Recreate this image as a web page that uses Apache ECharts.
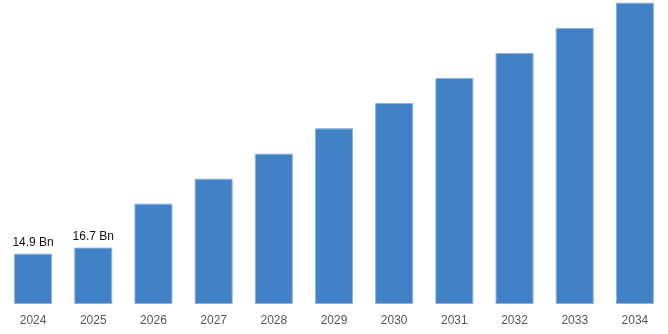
<!DOCTYPE html>
<html>
<head>
<meta charset="utf-8">
<script src="https://cdn.jsdelivr.net/npm/echarts@6/dist/echarts.min.js"></script>
<style>
  html, body { margin: 0; padding: 0; background: #ffffff; }
  #chart { width: 668px; height: 334px; }
</style>
</head>
<body>
<div id="chart"></div>
<script>
// Market size by year (USD billions)
const years = ['2024', '2025', '2026', '2027', '2028', '2029', '2030', '2031', '2032', '2033', '2034'];
const marketSize = [14.9, 16.7, 29.7, 37.1, 44.5, 52.0, 59.5, 66.9, 74.3, 81.7, 89.2];
// Only the first two years carry a value label
const labelledYears = ['2024', '2025'];

const chart = echarts.init(document.getElementById('chart'), null, { renderer: 'canvas' });

chart.setOption({
  animation: false,
  grid: { left: 3, right: 3, top: 0, bottom: 30, containLabel: false },
  xAxis: {
    type: 'category',
    data: years,
    axisLine: { show: false },
    axisTick: { show: false },
    axisLabel: {
      color: '#555555',
      fontSize: 12,
      fontFamily: 'Liberation Sans, Arial, sans-serif',
      margin: 11
    }
  },
  yAxis: {
    type: 'value',
    min: 0,
    max: 90,
    show: false,
    splitLine: { show: false }
  },
  series: [{
    type: 'bar',
    data: marketSize.map((v, i) => ({
      value: v,
      label: { show: labelledYears.includes(years[i]) }
    })),
    barWidth: 38,
    itemStyle: {
      color: '#4181c5',
      borderColor: '#8db2dc',
      borderWidth: 1
    },
    label: {
      position: 'top',
      distance: 5,
      color: '#111111',
      fontSize: 12,
      fontFamily: 'Liberation Sans, Arial, sans-serif',
      formatter: p => p.value + ' Bn'
    }
  }]
});
</script>
</body>
</html>
